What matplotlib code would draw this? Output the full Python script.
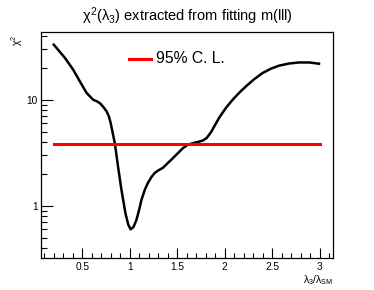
import matplotlib
matplotlib.use('Agg')
import matplotlib.pyplot as plt
from matplotlib.ticker import FixedLocator, NullFormatter, MultipleLocator

plt.rcParams['font.family'] = ['Liberation Sans', 'DejaVu Sans']
plt.rcParams['mathtext.fontset'] = 'custom'
plt.rcParams['mathtext.rm'] = 'Liberation Sans'
plt.rcParams['mathtext.it'] = 'Liberation Sans'
plt.rcParams['mathtext.bf'] = 'Liberation Sans:bold'

# chi2 curve
lam = [0.20, 0.213, 0.318, 0.405, 0.475, 0.546, 0.615, 0.65, 0.685, 0.72, 0.755,
       0.78, 0.80, 0.82, 0.843, 0.877, 0.913, 0.955, 0.985, 1.01, 1.04, 1.07,
       1.10, 1.123, 1.16, 1.19, 1.23, 1.262, 1.30, 1.35, 1.40, 1.455, 1.51, 1.56,
       1.61, 1.664, 1.72, 1.77, 1.81, 1.857, 1.90, 1.944, 2.01, 2.084, 2.16, 2.225,
       2.31, 2.40, 2.49, 2.574, 2.68, 2.784, 2.89, 2.994]
chi2 = [33.1, 32.1, 24.8, 19.2, 14.9, 11.6, 10.0, 9.7, 9.3, 8.6, 7.8,
        7.0, 6.0, 4.9, 3.89, 2.34, 1.41, 0.848, 0.66, 0.598, 0.63, 0.73,
        0.92, 1.13, 1.42, 1.63, 1.87, 2.03, 2.15, 2.28, 2.52, 2.81, 3.15, 3.49,
        3.75, 3.89, 4.0, 4.12, 4.35, 4.95, 5.8, 6.8, 8.3, 10.0, 11.8, 13.4,
        15.6, 17.9, 19.7, 21.0, 22.0, 22.5, 22.5, 21.9]

cl95 = 3.84
cl_range = [0.2, 3.0]

fig = plt.figure(figsize=(3.74, 2.90), dpi=100)
ax = fig.add_axes([0.109, 0.110, 0.781, 0.781])

ax.plot(lam, chi2, color='black', lw=1.8, solid_joinstyle='round')
ax.plot(cl_range, [cl95, cl95], color='red', lw=2.2)

ax.set_yscale('log')
ax.set_xlim(0.063, 3.14)
ax.set_ylim(0.32, 44)

ax.xaxis.set_minor_locator(MultipleLocator(0.1))
ax.set_xticks([0.5, 1, 1.5, 2, 2.5, 3])
ax.set_xticklabels(['0.5', '1', '1.5', '2', '2.5', '3'])
ax.yaxis.set_major_locator(FixedLocator([1, 10]))
ax.set_yticklabels(['1', '10'])
minors = [0.4, 0.5, 0.6, 0.7, 0.8, 0.9, 2, 3, 4, 5, 6, 7, 8, 9, 20, 30, 40]
ax.yaxis.set_minor_locator(FixedLocator(minors))
ax.yaxis.set_minor_formatter(NullFormatter())

ax.tick_params(which='both', direction='in', top=False, right=False,
               labelsize=7.3, colors='black', width=0.8)
ax.tick_params(axis='x', which='major', length=7, pad=3)
ax.tick_params(axis='x', which='minor', length=3.5)
ax.tick_params(axis='y', which='major', length=8.5, pad=2)
ax.tick_params(axis='y', which='minor', length=4)
for s in ax.spines.values():
    s.set_linewidth(0.9)

fig.text(0.5, 0.945, r'$\chi^{2}(\lambda_{3})$ extracted from fitting m(lll)',
         ha='center', va='center', fontsize=10.5)
fig.text(0.045, 0.86, r'$\chi^{2}$', rotation=90, ha='center', va='center', fontsize=7.5)
fig.text(0.89, 0.035, r'$\lambda_{3}/\lambda_{SM}$', ha='right', va='center', fontsize=7.5)

# legend
ax.plot([0.99, 1.22], [24.5, 24.5], color='red', lw=2.2)
ax.text(1.28, 24.5, '95% C. L.', fontsize=11.3, va='center', ha='left')

fig.savefig('out.png', dpi=100)
